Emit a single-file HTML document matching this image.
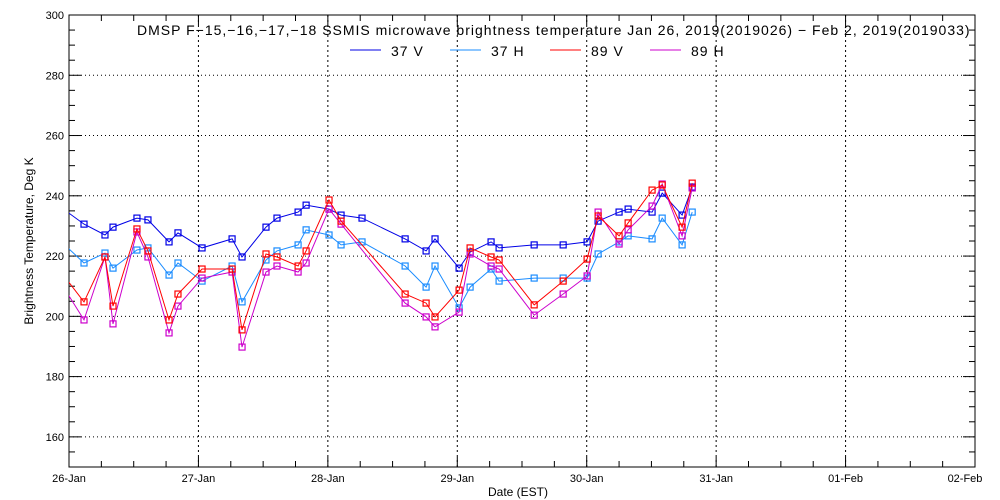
<!DOCTYPE html>
<html><head><meta charset="utf-8"><style>
html,body{margin:0;padding:0;background:#fff;}
svg{display:block;font-family:"Liberation Sans",sans-serif;}
</style></head><body>
<svg id="chart" width="1000" height="500" xmlns="http://www.w3.org/2000/svg">
<defs><clipPath id="plotclip"><rect x="69" y="15" width="906" height="452"/></clipPath></defs>
<rect width="1000" height="500" fill="#fff"/>
<g id="grid"></g>
<g id="axes"></g>
<g id="series" clip-path="url(#plotclip)"></g>
<text x="137" y="35" font-size="14" letter-spacing="1.0">DMSP F−15,−16,−17,−18 SSMIS microwave brightness temperature Jan 26, 2019(2019026) − Feb  2, 2019(2019033)</text>
<g id="legend"></g>
<text x="518" y="496" font-size="12" text-anchor="middle">Date (EST)</text>
<text transform="translate(33,241) rotate(-90)" font-size="12" text-anchor="middle">Brightness Temperature, Deg K</text>
</svg>
<script>
const dayLabels = ["26-Jan","27-Jan","28-Jan","29-Jan","30-Jan","31-Jan","01-Feb","02-Feb"];
const yTicks = [160,180,200,220,240,260,280,300];
const seriesNames = ["37 V","37 H","89 V","89 H"];
const timesA = [-0.04,.116,.278,.34,.525,.61,.773,.842,1.028,1.26,1.337,1.522,1.607,1.77,1.832,2.009,2.102,2.264,2.597,2.759,2.828,3.014,3.099,3.261,3.323,3.594,3.818,4.003,4.088,4.25,4.32,4.505,4.583,4.737,4.815];
const timesB = [-0.04,.116,.278,.34,.525,.61,.773,.842,1.028,1.26,1.337,1.522,1.607,1.77,1.832,2.009,2.102,2.597,2.759,2.828,3.014,3.099,3.261,3.323,3.594,3.818,4.003,4.088,4.25,4.32,4.505,4.583,4.737,4.815];
const v37V = [235.5,230.6,227.0,229.6,232.6,232.0,224.7,227.7,222.7,225.7,219.7,229.6,232.6,234.6,236.9,235.6,233.6,232.6,225.7,221.7,225.7,216.0,221.3,224.7,222.7,223.7,223.7,224.7,231.6,234.6,235.6,234.6,240.9,233.6,242.9];
const v37H = [224.0,217.7,221.0,216.0,222.0,222.7,213.7,217.7,211.7,216.7,204.8,218.7,221.7,223.7,228.7,227.0,223.7,224.7,216.7,209.7,216.7,202.8,209.7,215.7,211.7,212.7,212.7,212.7,220.7,224.7,226.7,225.7,232.6,223.7,234.6];
const v89V = [213.5,204.8,219.7,203.4,229.0,221.7,198.8,207.4,215.7,215.7,195.5,220.7,219.7,216.7,221.7,238.6,231.6,207.4,204.4,199.8,208.7,222.7,219.7,218.7,203.8,211.7,219.0,233.3,226.7,231.0,241.9,243.6,229.6,244.2];
const v89H = [209.5,198.8,219.7,197.5,228.0,219.7,194.5,203.4,212.7,214.7,189.8,214.7,216.7,214.7,217.7,235.6,230.6,204.4,199.8,196.5,201.4,220.7,216.7,215.7,200.4,207.4,213.4,234.6,224.0,228.7,236.6,243.9,226.7,242.6];

const NS="http://www.w3.org/2000/svg";
const X0=69, X1=975, Y0=15, Y1=467, YMIN=150, YMAX=300, NDAYS=7;
const xs = d => X0 + d*(X1-X0)/NDAYS;
const ys = v => Y1 - (v-YMIN)*(Y1-Y0)/(YMAX-YMIN);
function mk(tag, attrs, parent){const e=document.createElementNS(NS,tag);for(const k in attrs)e.setAttribute(k,attrs[k]);parent.appendChild(e);return e;}
const grid=document.getElementById('grid'), axes=document.getElementById('axes'), ser=document.getElementById('series'), leg=document.getElementById('legend');

yTicks.forEach(v=>{ if(v<YMAX){
  const l=mk('line',{x1:X0,x2:X1,y1:ys(v),y2:ys(v),stroke:'#000','stroke-dasharray':'1,3'},grid);
  
  
}});
dayLabels.forEach((d,i)=>{ if(i>0&&i<NDAYS){
  const l=mk('line',{x1:xs(i),x2:xs(i),y1:Y0,y2:Y1,stroke:'#000','stroke-dasharray':'2,3'},grid);
  
  
}});
mk('rect',{x:X0,y:Y0,width:X1-X0,height:Y1-Y0,fill:'none',stroke:'#000','stroke-width':1},axes);
for(let v=YMIN; v<=YMAX; v+=5){
  const major=(v%20===0);
  mk('line',{x1:X0,x2:X0+(major?12:6),y1:ys(v),y2:ys(v),stroke:'#000'},axes);
  mk('line',{x1:X1,x2:X1-(major?12:6),y1:ys(v),y2:ys(v),stroke:'#000'},axes);
}
yTicks.forEach(v=>{
  const t=mk('text',{x:X0-5,y:ys(v)+4,'font-size':11,'text-anchor':'end'},axes);
  t.textContent=v;
  
  
});
for(let q=0;q<=NDAYS*4;q++){
  const x=xs(q/4), len=(q%4===0)?10:6;
  mk('line',{x1:x,x2:x,y1:Y1,y2:Y1-len,stroke:'#000'},axes);
  mk('line',{x1:x,x2:x,y1:Y0,y2:Y0+len,stroke:'#000'},axes);
}
dayLabels.forEach((d,i)=>{
  const t=mk('text',{x:xs(i)-(i===NDAYS?10:0),y:482,'font-size':11,'text-anchor':'middle'},axes);
  t.textContent=d;
  
  
});
const colors=['#0000e6','#1a8cff','#ff0000','#cc00cc'];
const allT=[timesA,timesA,timesB,timesB], allV=[v37V,v37H,v89V,v89H];
const order=[1,0,3,2];
order.forEach(i=>{
  const g=mk('g',{},ser);
  
  
  const pts=allT[i].map((t,j)=>xs(t).toFixed(1)+','+ys(allV[i][j]).toFixed(1)).join(' ');
  mk('polyline',{points:pts,fill:'none',stroke:colors[i],'stroke-width':1},g);
  allT[i].forEach((t,j)=>{
    const r=mk('rect',{x:xs(t)-3,y:ys(allV[i][j])-3,width:6,height:6,fill:'none',stroke:colors[i],'stroke-width':1.2},g);
    
    
  });
});
const legX=[350,450,550,650];
seriesNames.forEach((n,i)=>{
  const g=mk('g',{},leg);
  
  
  mk('line',{x1:legX[i],x2:legX[i]+31,y1:50,y2:50,stroke:colors[i],'stroke-width':1},g);
  const t=mk('text',{x:legX[i]+41,y:56,'font-size':14,'letter-spacing':'1.0'},g);
  t.textContent=n;
});
</script>
</body></html>
